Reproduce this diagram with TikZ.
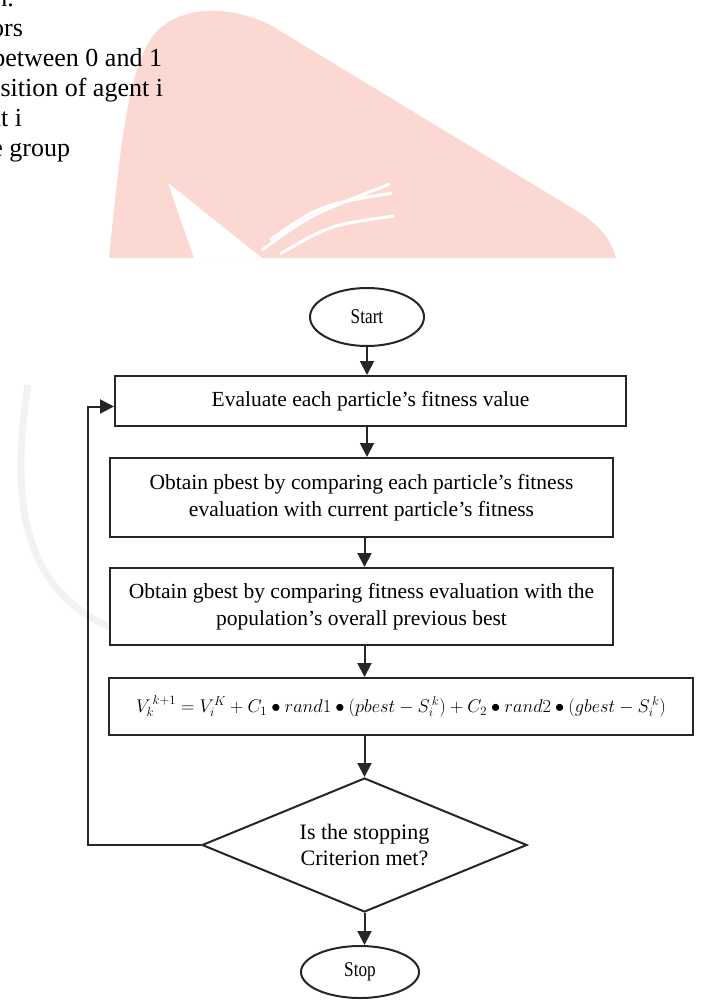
\documentclass[tikz,border=0pt]{standalone}
\usepackage{fontspec}
\setmainfont{Liberation Serif}
\newfontfamily\narrowfont[FakeStretch=0.82]{Liberation Serif}
\usepackage{graphicx}
\usepackage{tikz}
\usetikzlibrary{shapes.geometric}
\usetikzlibrary{arrows.meta}
\definecolor{wmpink}{RGB}{251,216,210}
\definecolor{wmgrey}{RGB}{242,242,242}

\begin{document}
\begin{tikzpicture}[x=1pt, y=-1pt,
        every node/.style={draw=black!85, line width=2pt, fill=white, inner sep=0pt},
        box/.style={rectangle, align=center, font=\fontsize{21.5}{27}\selectfont},
        term/.style={ellipse, font=\narrowfont\fontsize{21}{24}\selectfont},
        decision/.style={diamond, aspect=2.4, align=center, font=\fontsize{22}{26}\selectfont},
        note/.style={draw=none, fill=none, anchor=base east, font=\fontsize{26}{30}\selectfont},
        arr/.style={line width=2pt, draw=black!85, -{Triangle[length=14pt, width=14pt]}}]

        \useasboundingbox (0,0) rectangle (704,1000);
        \clip (0,0) rectangle (704,1000);

        \fill[wmpink] (109,258) .. controls (120,150) and (128,60) .. (158,30) .. controls (185,5) and (232,5) .. (272,26) -- (582,214) .. controls (602,228) and (612,242) .. (616,258) -- cycle;
        \fill[white] (168,183) -- (262,258) -- (194,258) -- cycle;
        \draw[white, line width=3pt] (262,250) .. controls (310,215) .. (390,184);
        \draw[white, line width=3pt] (270,240) .. controls (320,205) .. (392,193);
        \draw[white, line width=3pt] (280,254) .. controls (330,225) .. (394,216);
        \draw[wmgrey, line width=7pt] (28,385) .. controls (10,500) and (22,590) .. (112,628);

        \node[note] (n1) at (15,7) {n.};
        \node[note] (n2) at (24,37) {ors};
        \node[note] (n3) at (163,67) {between 0 and 1};
        \node[note] (n4) at (164,97) {sition of agent i};
        \node[note] (n5) at (23,127) {nt i};
        \node[note] (n6) at (71,157) {e group};

        \node[term, minimum width=114pt, minimum height=58pt] (1) at (367,317) {Start};
        \node[box, minimum width=511pt, minimum height=50pt] (2) at (370.5,401) {Evaluate each particle’s fitness value};
        \node[box, minimum width=503pt, minimum height=79pt] (3) at (361.5,497.5) {Obtain pbest by comparing each particle’s fitness\\evaluation with current particle’s fitness};
        \node[box, minimum width=503pt, minimum height=77pt] (4) at (361.5,606.5) {Obtain gbest by comparing fitness evaluation with the\\population’s overall previous best};
        \node[box, minimum width=584pt, minimum height=57pt, font=\fontsize{17.6}{22}\selectfont] (5) at (401,706.5) {\resizebox{530pt}{!}{$V_k^{\,k+1} = V_i^{K} + C_1 \bullet rand1 \bullet (pbest - S_i^{\,k}) + C_2 \bullet rand2 \bullet (gbest - S_i^{\,k})$}};
        \node[decision, minimum width=325pt, minimum height=134pt] (6) at (364.5,845) {Is the stopping\\Criterion met?};
        \node[term, minimum width=118pt, minimum height=52pt] (7) at (360,972) {Stop};

        \coordinate (loop) at (88,0);

        \draw[arr] (1.south) -- (1.south |- 2.north);
        \draw[arr] (2.south -| 1.south) -- (3.north -| 1.south);
        \draw[arr] (3.south -| 6.north) -- (4.north -| 6.north);
        \draw[arr] (4.south -| 6.north) -- (5.north -| 6.north);
        \draw[arr] (5.south -| 6.north) -- (6.north);
        \draw[arr] (6.south) -- (6.south |- 7.north);
        \draw[arr] (6.west) -- (6.west -| loop) |- ([yshift=-5.5pt]2.west);

\end{tikzpicture}
\end{document}
